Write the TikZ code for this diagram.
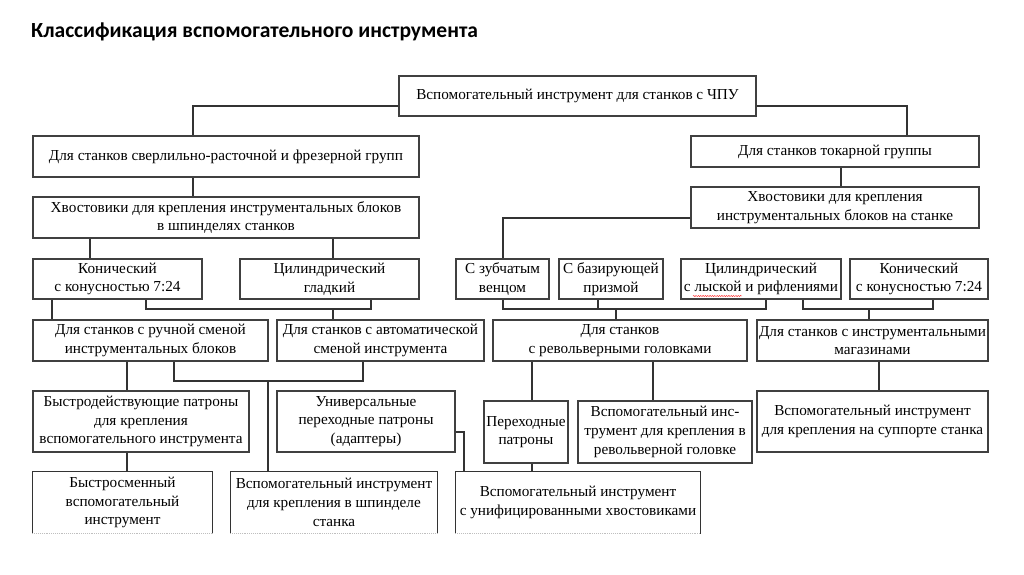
\documentclass[tikz,border=0pt]{standalone}
\usepackage{fontspec}
\setmainfont{Liberation Serif}
\newfontfamily\titlefont{Carlito}
\usetikzlibrary{decorations.pathmorphing}

\begin{document}
\begin{tikzpicture}[x=0.03cm,y=-0.03cm,
	box/.style={draw=black!75,line width=0.95pt,inner sep=0pt,align=center,
		font=\fontsize{13}{16}\selectfont},
	sz/.style 2 args={minimum width=#1*0.03cm,minimum height=#2*0.03cm},
	link/.style={draw=black!80,line width=0.95pt}]
	% page
	\useasboundingbox (0,0) rectangle (1024,574);
	\fill[white] (0,0) rectangle (1024,574);
	\node[anchor=west,font=\titlefont\bfseries\fontsize{18.4}{21}\selectfont] (title) at (27,32) {Классификация вспомогательного инструмента};
	% draw boxes
	\node[box,sz={357}{40}] (top) at (577.5,96) {Вспомогательный инструмент для станков с ЧПУ};
	\node[box,sz={386}{41}] (drill) at (226,156.5) {Для станков сверлильно-расточной и фрезерной групп};
	\node[box,sz={288}{31}] (turn) at (835,151.5) {Для станков токарной группы};
	\node[box,sz={386}{41}] (shankL) at (226,217.5) {Хвостовики для крепления инструментальных блоков\\в шпинделях станков};
	\node[box,sz={288}{41}] (shankR) at (835,207.5) {Хвостовики для крепления\\инструментальных блоков на станке};
	\node[box,sz={169}{40}] (conL) at (117.5,279) {Конический\\с конусностью 7:24};
	\node[box,sz={179}{40}] (cylL) at (329.5,279) {Цилиндрический\\гладкий};
	\node[box,sz={93}{40}] (gear) at (502.5,279) {С зубчатым\\венцом};
	\node[box,sz={104}{40}] (prism) at (611,279) {С базирующей\\призмой};
	\node[box,sz={160}{40}] (cylR) at (761,279) {Цилиндрический\\с лыской и рифлениями};
	\node[box,sz={138}{40}] (conR) at (919,279) {Конический\\с конусностью 7:24};
	\node[box,sz={235}{41}] (manual) at (150.5,340.5) {Для станков с ручной сменой\\инструментальных блоков};
	\node[box,sz={207}{41}] (auto) at (380.5,340.5) {Для станков с автоматической\\сменой инструмента};
	\node[box,sz={254}{41}] (turret) at (620,340.5) {Для станков\\с револьверными головками};
	\node[box,sz={231}{41}] (magazine) at (872.5,340.5) {Для станков с инструментальными\\магазинами};
	\node[box,sz={216}{61}] (quick) at (141,421.5) {Быстродействующие патроны\\для крепления\\вспомогательного инструмента};
	\node[box,sz={178}{61}] (adapt) at (366,421.5) {Универсальные\\переходные патроны\\(адаптеры)};
	\node[box,sz={84}{62}] (trans) at (526,432) {Переходные\\патроны};
	\node[box,sz={174}{62}] (turretTool) at (665,432) {Вспомогательный инс-\\трумент для крепления в\\револьверной головке};
	\node[box,sz={231}{61}] (support) at (872.5,421.5) {Вспомогательный инструмент\\для крепления на суппорте станка};
	% bottom row, cut off by the page edge
	\node[box,draw=none,sz={179}{61}] (fast) at (122.5,502.5) {Быстросменный\\вспомогательный\\инструмент};
	\node[box,draw=none,sz={206}{61}] (spindle) at (334,502.5) {Вспомогательный инструмент\\для крепления в шпинделе\\станка};
	\node[box,draw=none,sz={244}{61}] (unified) at (578,502.5) {Вспомогательный инструмент\\с унифицированными хвостовиками};
	\foreach \n in {fast,spindle,unified} {
		\draw[link] (\n.south west) -- (\n.north west) -- (\n.north east) -- (\n.south east);
		\draw[black!25,line width=0.6pt,densely dotted] (\n.south west) -- (\n.south east);
	}
	% spell check mark
	\draw[red!80,line width=0.4pt,decorate,decoration={snake,amplitude=0.5pt,segment length=2pt}] (693,296) -- (742,296);
	% draw links
	\draw[link] (top.west |- 0,106) -| (drill.north -| 193,0);
	\draw[link] (top.east |- 0,106) -| (turn.north -| 907,0);
	\draw[link] (drill.south -| 193,0) -- (shankL.north -| 193,0);
	\draw[link] (turn.south -| 841,0) -- (shankR.north -| 841,0);
	\draw[link] (shankR.west |- 0,218) -| (gear.north -| 503,0);
	\draw[link] (shankL.south -| 90,0) -- (conL.north -| 90,0);
	\draw[link] (shankL.south -| 333,0) -- (cylL.north -| 333,0);
	\draw[link] (conL.south -| 52,0) -- (manual.north -| 52,0);
	\draw[link] (conL.south -| 146,0) -- (146,309) -| (cylL.south -| 371,0);
	\draw[link] (333,309) -- (auto.north -| 333,0);
	\draw[link] (gear.south -| 503,0) -- (503,309) -| (cylR.south -| 766,0);
	\draw[link] (prism.south -| 598,0) -- (598,309);
	\draw[link] (616,309) -- (turret.north -| 616,0);
	\draw[link] (cylR.south -| 803,0) -- (803,309) -| (conR.south -| 933,0);
	\draw[link] (869,309) -- (magazine.north -| 869,0);
	\draw[link] (manual.south -| 127,0) -- (quick.north -| 127,0);
	\draw[link] (manual.south -| 174,0) -- (174,381) -| (auto.south -| 363,0);
	\draw[link] (268,381) -- (spindle.north -| 268,0);
	\draw[link] (quick.south -| 127,0) -- (fast.north -| 127,0);
	\draw[link] (adapt.east |- 0,432) -| (unified.north -| 464,0);
	\draw[link] (turret.south -| 532,0) -- (trans.north -| 532,0);
	\draw[link] (turret.south -| 653,0) -- (turretTool.north -| 653,0);
	\draw[link] (trans.south -| 532,0) -- (unified.north -| 532,0);
	\draw[link] (magazine.south -| 879,0) -- (support.north -| 879,0);
\end{tikzpicture}
\end{document}
